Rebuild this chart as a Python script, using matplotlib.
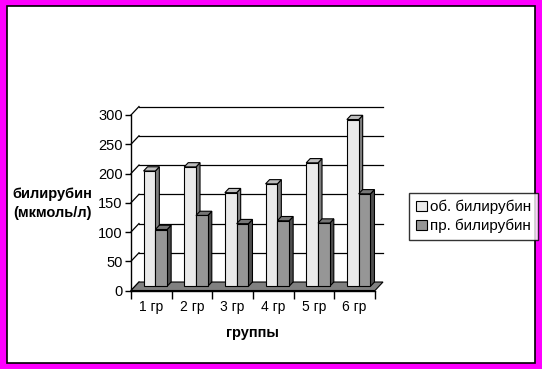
import matplotlib
matplotlib.use("Agg")
from matplotlib import pyplot as plt
from matplotlib.patches import Polygon, Patch, Rectangle

# data
groups = ["1 гр", "2 гр", "3 гр", "4 гр", "5 гр", "6 гр"]
total_bili = [197, 204, 160, 175, 211, 285]
direct_bili = [97, 121, 107, 112, 108, 158]
series_names = ["об. билирубин", "пр. билирубин"]
y_ticks = [0, 50, 100, 150, 200, 250, 300]

# look
front_colors = ["#EAEAEA", "#969696"]
top_colors = ["#BDBDBD", "#767676"]
side_colors = ["#7E7E7E", "#4E4E4E"]
FLOOR = "#808080"
DX, DY = 0.197, 14.5   # depth of the 3d box in data units
W = 0.29               # bar width

plt.rcParams["font.family"] = ["Liberation Sans", "DejaVu Sans"]
plt.rcParams["font.size"] = 10

fig = plt.figure(figsize=(5.42, 3.69), dpi=100)
fig.patch.set_facecolor("#FF00FF")

# white plotting area with thin black line inside the magenta frame
fig.patches.append(Rectangle((7 / 542, 6 / 369), 528 / 542, 357 / 369,
                             transform=fig.transFigure, facecolor="white",
                             edgecolor="black", linewidth=1.2, zorder=-1))

ax = fig.add_axes([131 / 542, (369 - 290.5) / 369, 244 / 542, 175.5 / 369])
ax.set_zorder(1)
ax.set_facecolor("none")
ax.set_xlim(-0.5, len(groups) - 0.5)
ax.set_ylim(0, 300)
x_lo, x_hi = -0.5, len(groups) - 0.5

# back wall gridlines and left-wall diagonals
for v in y_ticks:
    ax.plot([x_lo, x_lo + DX], [v, v + DY], color="black", lw=0.9,
            clip_on=False, zorder=1)
    if v > 0:
        ax.plot([x_lo + DX, x_hi + DX], [v + DY, v + DY], color="black",
                lw=0.9, clip_on=False, zorder=1)

# floor
ax.add_patch(Polygon([(x_lo, 0), (x_hi, 0), (x_hi + DX, DY), (x_lo + DX, DY)],
                     closed=True, facecolor=FLOOR, edgecolor="black", lw=0.8,
                     clip_on=False, zorder=2))

# bars
ox, oy = DX / 2, DY / 2
bdx, bdy = DX / 2, DY / 2
for s, vals in enumerate([total_bili, direct_bili]):
    xs = [i + ox - W + s * W for i in range(len(groups))]
    bars = ax.bar(xs, vals, width=W, bottom=oy, align="edge",
                  color=front_colors[s], edgecolor="black", linewidth=0.8,
                  clip_on=False)
    for i, (rect, v) in enumerate(zip(bars, vals)):
        z = 3 + i + s * 0.5
        rect.set_zorder(z + 0.1)
        x0 = rect.get_x()
        x1 = x0 + W
        top = oy + v
        ax.add_patch(Polygon([(x1, oy), (x1 + bdx, oy + bdy),
                              (x1 + bdx, top + bdy), (x1, top)],
                             closed=True, facecolor=side_colors[s],
                             edgecolor="black", lw=0.8, clip_on=False, zorder=z))
        ax.add_patch(Polygon([(x0, top), (x1, top), (x1 + bdx, top + bdy),
                              (x0 + bdx, top + bdy)],
                             closed=True, facecolor=top_colors[s],
                             edgecolor="black", lw=0.8, clip_on=False, zorder=z))

# axes
for side in ["top", "right"]:
    ax.spines[side].set_visible(False)
for side in ["left", "bottom"]:
    ax.spines[side].set_linewidth(1.0)
    ax.spines[side].set_zorder(20)
ax.set_yticks(y_ticks)
ax.tick_params(axis="y", direction="out", length=4, width=1.0, pad=2,
               labelsize=10.5)
ax.set_xticks(range(len(groups)))
ax.set_xticklabels(groups)
ax.tick_params(axis="x", length=0, pad=7, labelsize=10)
ax.set_xticks([x_lo + k for k in range(len(groups) + 1)], minor=True)
ax.tick_params(axis="x", which="minor", direction="out", length=6, width=1.0)

fig.text(52 / 542, 1 - 203.5 / 369, "билирубин\n(мкмоль/л)", ha="center",
         va="center", fontsize=10.5, fontweight="bold", linespacing=1.45)
fig.text(252 / 542, 1 - 333 / 369, "группы", ha="center", va="center",
         fontsize=10.5, fontweight="bold")

handles = [Patch(facecolor=front_colors[k], edgecolor="black", linewidth=0.8,
                 label=series_names[k]) for k in range(2)]
leg = fig.legend(handles=handles, loc="upper left",
                 bbox_to_anchor=(409 / 542, 1 - 193 / 369),
                 frameon=True, fancybox=False, edgecolor="black",
                 handlelength=0.7, handleheight=0.7, handletextpad=0.2,
                 borderpad=0.45, labelspacing=0.3, fontsize=11,
                 borderaxespad=0)
leg.get_frame().set_linewidth(1.0)
leg.set_zorder(2)

fig.savefig("out.png", dpi=100, facecolor=fig.get_facecolor())
